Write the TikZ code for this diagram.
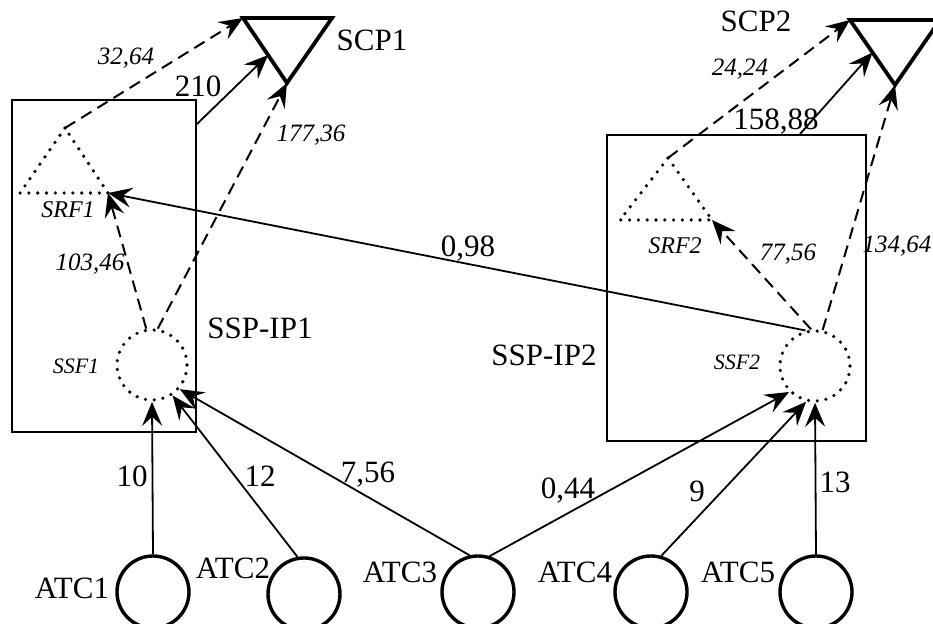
\documentclass[tikz,border=0pt]{standalone}
\usepackage{fontspec}
\setmainfont{Liberation Serif}
\usetikzlibrary{arrows.meta,calc}
\begin{document}
\begin{tikzpicture}[x=0.5pt,y=-0.5pt,
  thinl/.style={line width=0.9pt},
  arr/.style={-{Stealth[length=12pt,width=10pt,inset=4.5pt]}},
  dsh/.style={dash pattern=on 6pt off 3.5pt, line width=1pt},
  dotl/.style={line width=1.8pt, line cap=round, dash pattern=on 0pt off 4.4pt},
  big/.style={font=\fontsize{15.5}{15.5}\selectfont, inner sep=0pt},
  itn/.style={font=\fontsize{12.5}{12.5}\selectfont\itshape, inner sep=0pt},
  itsrf/.style={font=\fontsize{12}{12}\selectfont\itshape, inner sep=0pt},
  itssf/.style={font=\fontsize{11}{11}\selectfont\itshape, inner sep=0pt},
  atc/.style={circle, draw, line width=1.7pt, minimum size=36pt, inner sep=0pt},
  ssf/.style={circle, draw, dotl, minimum size=35pt, inner sep=0pt},
  boxn/.style={draw, line width=1pt, inner sep=0pt},
  scp/.style={line width=1.9pt, line join=miter}]

\clip (0,0) rectangle (933,624);

% SSP-IP boxes
\node[boxn, minimum width=92pt, minimum height=166pt] (ssp1) at (104,266) {};
\node[boxn, minimum width=129.5pt, minimum height=153pt] (ssp2) at (736.5,288) {};

% SCP triangles
\coordinate (scp1a) at (243,18);
\coordinate (scp1b) at (332,18);
\coordinate (scp1c) at (287,83);
\draw[scp] (scp1a) -- (scp1b) -- (scp1c) -- cycle;
\coordinate (scp2a) at (850,20);
\coordinate (scp2b) at (940,20);
\coordinate (scp2c) at (895,85);
\draw[scp] (scp2a) -- (scp2b) -- (scp2c) -- cycle;

% SRF dotted triangles
\coordinate (srf1a) at (65,128);
\coordinate (srf1b) at (20,193);
\coordinate (srf1c) at (108,193);
\draw[dotl] (srf1a) -- (srf1b) -- (srf1c) -- cycle;
\coordinate (srf2a) at (668,158);
\coordinate (srf2b) at (620,220);
\coordinate (srf2c) at (712,220);
\draw[dotl] (srf2a) -- (srf2b) -- (srf2c) -- cycle;

% SSF dotted circles
\node[ssf] (ssf1) at (152,365) {};
\node[ssf] (ssf2) at (815,366) {};

% ATC circles
\node[atc] (atc1) at (153,592) {};
\node[atc] (atc2) at (304,594) {};
\node[atc] (atc3) at (478,592) {};
\node[atc] (atc4) at (651,592) {};
\node[atc] (atc5) at (816,592) {};

% connectors
\draw[arr, dsh] (srf1a) -- (scp1a);
\draw[arr, thinl] ([yshift=-12.5pt]ssp1.north east) -- ($(scp1a)!0.57!(scp1c)$);
\draw[arr, dsh] (ssf1.81) -- (scp1c);
\draw[arr, dsh] (ssf1.99) -- (srf1c);
\draw[arr, thinl] (ssf2.105) -- (srf1c);
\draw[arr, dsh] (srf2a) -- (scp2a);
\draw[arr, thinl] ([xshift=31.75pt]ssp2.north) -- ($(scp2a)!0.5!(scp2c)$);
\draw[arr, dsh] (ssf2.78) -- (scp2c);
\draw[arr, dsh] (ssf2.96) -- (srf2c);

\draw[arr, thinl] (atc1.north) -- (ssf1.south);
\draw[arr, thinl] (atc2.100) -- (ssf1.-56);
\draw[arr, thinl] (atc3.103) -- (ssf1.-41);
\draw[arr, thinl] (atc3.72) -- (ssf2.-135);
\draw[arr, thinl] (atc4.74) -- (ssf2.-104);
\draw[arr, thinl] (atc5.north) -- (ssf2.south);

% labels
\node[big] (lscp1) at (372,40) {SCP1};
\node[big] (lscp2) at (756,21) {SCP2};
\node[big] (lssp1) at (260,328) {SSP-IP1};
\node[big] (lssp2) at (544,355) {SSP-IP2};
\node[big] (latc1) at (72,588) {ATC1};
\node[big] (latc2) at (233,568) {ATC2};
\node[big] (latc3) at (400,572) {ATC3};
\node[big] (latc4) at (575,572) {ATC4};
\node[big] (latc5) at (738,572) {ATC5};

\node[big] (l210) at (198,86) {210};
\node[big] (l15888) at (776,122) {158,88};
\node[big] (l098) at (468,249) {0,98};
\node[big] (l10) at (132,476) {10};
\node[big] (l12) at (260,476) {12};
\node[big] (l756) at (368,475) {7,56};
\node[big] (l044) at (568,491) {0,44};
\node[big] (l9) at (697,491) {9};
\node[big] (l13) at (835,482) {13};

\node[itn] (l3264) at (126,58) {32,64};
\node[itn] (l17736) at (311,135) {177,36};
\node[itn] (l10346) at (90,264) {103,46};
\node[itn] (l2424) at (740,69) {24,24};
\node[itn] (l13464) at (897,246) {134,64};
\node[itn] (l7756) at (788,254) {77,56};

\node[itsrf] (lsrf1) at (68,210) {SRF1};
\node[itsrf] (lsrf2) at (675,246) {SRF2};
\node[itssf] (lssf1) at (76,366) {SSF1};
\node[itssf] (lssf2) at (737,362) {SSF2};
\end{tikzpicture}
\end{document}
